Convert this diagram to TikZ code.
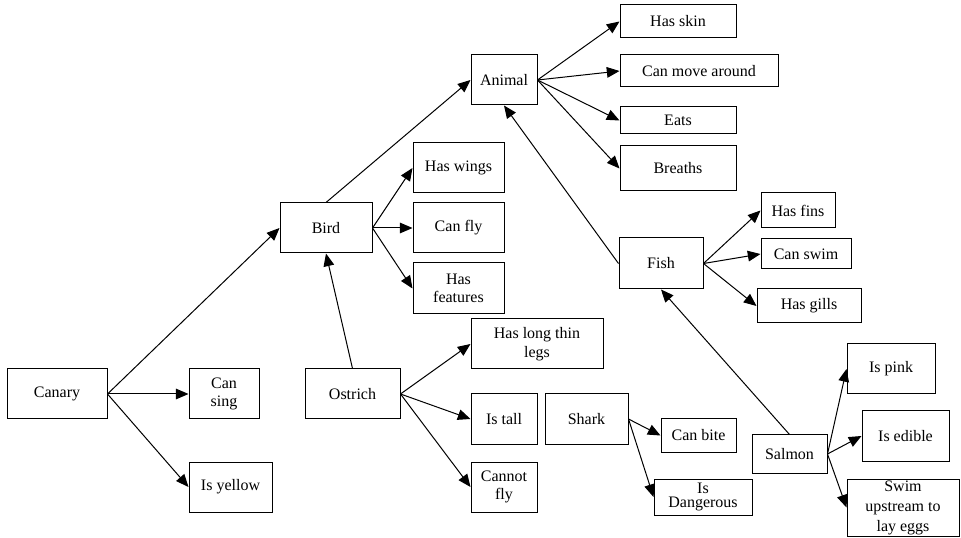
\documentclass[tikz,border=0pt]{standalone}
\usepackage{fontspec}
\setmainfont{Liberation Serif}
\usetikzlibrary{arrows.meta}
\begin{document}
\begin{tikzpicture}[x=0.75pt,y=-0.75pt,
  box/.style={draw,line width=0.75pt,inner sep=0pt,align=center,
    font=\fontsize{12}{14}\selectfont},
  link/.style={line width=0.75pt,-{Triangle[length=9.5pt,width=8pt]}}]
\useasboundingbox (0,0) rectangle (961,538);
% \bx{name}{x1}{y1}{x2}{y2}{text}
\newcommand\bx[6]{\node[box,minimum width={(#4-#2)*0.75pt},minimum height={(#5-#3)*0.75pt}]
  (#1) at ({(#2+#4)/2},{(#3+#5)/2}) {#6};}
\bx{canary}{7}{369}{107}{419}{Canary}
\bx{cansing}{189}{369}{259}{419}{Can\\sing}
\bx{isyellow}{189}{462}{272}{512}{Is yellow}
\bx{bird}{280}{203}{372}{253}{Bird}
\bx{haswings}{413}{143}{504}{193}{Has wings}
\bx{canfly}{413}{203}{504}{253}{Can fly}
\bx{hasfeat}{413}{263}{504}{314}{Has\\features}
\bx{ostrich}{305}{369}{400}{419}{Ostrich}
\bx{legs}{471}{319}{603}{369}{Has long thin\\legs}
\bx{istall}{471}{394}{537}{444}{Is tall}
\bx{cannotfly}{471}{462}{537}{512}{Cannot\\fly}
\bx{shark}{545}{394}{628}{444}{Shark}
\bx{canbite}{661}{419}{736}{452}{Can bite}
\node[box,minimum width={98*0.75pt},minimum height={36*0.75pt},
  font=\fontsize{12}{10.5}\selectfont] (dangerous) at (703,497) {Is\\Dangerous};
\bx{animal}{471}{55}{537}{105}{Animal}
\bx{hasskin}{620}{5}{736}{38}{Has skin}
\bx{canmove}{620}{55}{778}{87}{Can move around}
\bx{eats}{620}{107}{736}{134}{Eats}
\bx{breaths}{620}{146}{736}{191}{Breaths}
\bx{fish}{619}{238}{703}{289}{Fish}
\bx{hasfins}{761}{193}{835}{228}{Has fins}
\bx{canswim}{761}{239}{851}{269}{Can swim}
\bx{hasgills}{757}{289}{861}{323}{Has gills}
\bx{salmon}{752}{435}{827}{473}{Salmon}
\bx{ispink}{847}{344}{935}{394}{Is pink}
\bx{isedible}{862}{411}{949}{461}{Is edible}
\node[box,minimum width={112*0.75pt},minimum height={57*0.75pt},
  font=\fontsize{12}{15}\selectfont] (swim) at (903,507.5) {Swim\\upstream to\\lay eggs};
% connectors
\draw[link] (canary.east) -- (bird.west);
\draw[link] (canary.east) -- (cansing.west);
\draw[link] (canary.east) -- (isyellow.west);
\draw[link] (bird.north) -- (animal.west);
\draw[link] (bird.east) -- (haswings.west);
\draw[link] (bird.east) -- (canfly.west);
\draw[link] (bird.east) -- (hasfeat.west);
\draw[link] (ostrich.north) -- (bird.south);
\draw[link] (ostrich.east) -- (legs.west);
\draw[link] (ostrich.east) -- (istall.west);
\draw[link] (ostrich.east) -- (cannotfly.west);
\draw[link] (animal.east) -- (hasskin.west);
\draw[link] (animal.east) -- (canmove.west);
\draw[link] (animal.east) -- (eats.west);
\draw[link] (animal.east) -- (breaths.west);
\draw[link] (fish.west) -- (animal.south);
\draw[link] (fish.east) -- (hasfins.west);
\draw[link] (fish.east) -- (canswim.west);
\draw[link] (fish.east) -- (hasgills.west);
\draw[link] (salmon.north) -- (fish.south);
\draw[link] (salmon.east) -- (ispink.west);
\draw[link] (salmon.east) -- (isedible.west);
\draw[link] (salmon.east) -- (swim.west);
\draw[link] (shark.east) -- (canbite.west);
\draw[link] (shark.east) -- (dangerous.west);
\end{tikzpicture}
\end{document}
